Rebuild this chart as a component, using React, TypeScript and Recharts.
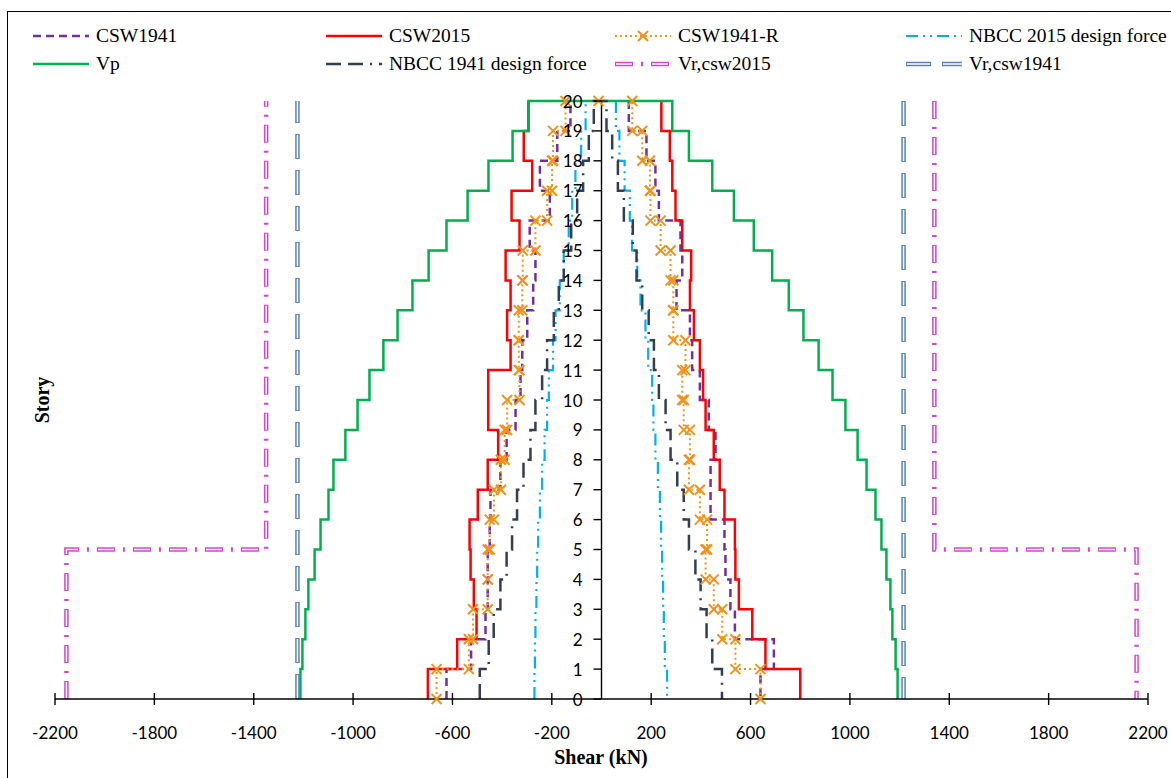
import { Line, LineChart, ReferenceDot, ReferenceLine, XAxis, YAxis } from 'recharts'

// story numbers (value of each segment holds from story-1 up to story)
const stories = [1, 2, 3, 4, 5, 6, 7, 8, 9, 10, 11, 12, 13, 14, 15, 16, 17, 18, 19, 20]
const storyTicks = [0, 1, 2, 3, 4, 5, 6, 7, 8, 9, 10, 11, 12, 13, 14, 15, 16, 17, 18, 19, 20]
const shearTicks = [-2200, -1800, -1400, -1000, -600, -200, 200, 600, 1000, 1400, 1800, 2200]

// shear per story, bottom (story 1) to top (story 20)
const csw1941Left = [-624, -525, -467, -458, -458, -450, -447, -407, -382, -346, -326, -319, -299, -275, -266, -289, -208, -248, -178, -125]
const csw1941Right = [640, 694, 537, 519, 499, 495, 439, 439, 459, 432, 396, 365, 356, 302, 325, 318, 231, 217, 181, 110]

const csw2015Left = [-699, -581, -503, -514, -527, -531, -498, -458, -416, -456, -456, -366, -380, -366, -386, -330, -362, -279, -313, -294]
const csw2015Right = [800, 660, 607, 553, 539, 537, 495, 476, 452, 419, 409, 396, 372, 356, 361, 325, 298, 285, 275, 241]

const csw1941RLeft = [-664, -534, -517, -458, -458, -450, -433, -405, -390, -380, -330, -333, -333, -319, -317, -266, -219, -199, -195, -145]
const csw1941RTop = -12
const csw1941RRight = [640, 539, 486, 452, 419, 425, 396, 352, 356, 331, 325, 338, 289, 289, 278, 238, 197, 195, 164, 124]

const nbcc2015Left = [-270, -268, -266, -262, -259, -255, -248, -239, -229, -219, -212, -195, -185, -168, -152, -132, -118, -105, -82, -64]
const nbcc2015Right = [264, 255, 251, 248, 244, 240, 235, 227, 217, 209, 204, 188, 177, 157, 144, 123, 114, 93, 72, 58]

const vpLeft = [-1212, -1204, -1192, -1180, -1155, -1131, -1099, -1079, -1031, -982, -934, -878, -821, -761, -696, -624, -539, -455, -358, -294]
const vpRight = [1192, 1184, 1171, 1163, 1147, 1127, 1103, 1067, 1031, 982, 930, 874, 813, 754, 687, 613, 533, 446, 352, 285]

const nbcc1941Left = [-490, -454, -434, -407, -382, -360, -340, -314, -286, -266, -239, -219, -192, -172, -152, -122, -98, -74, -51, -31]
const nbcc1941Right = [485, 446, 423, 399, 378, 352, 331, 305, 278, 258, 231, 211, 190, 164, 141, 126, 90, 66, 43, 20]

const vrCsw2015Left = [-2154, -2154, -2154, -2154, -2154, -1350, -1350, -1350, -1350, -1350, -1350, -1350, -1350, -1350, -1350, -1350, -1350, -1350, -1350, -1350]
const vrCsw2015Right = [2154, 2154, 2154, 2154, 2154, 1340, 1340, 1340, 1340, 1340, 1340, 1340, 1340, 1340, 1340, 1340, 1340, 1340, 1340, 1340]

const vrCsw1941Left = [-1224, -1224, -1224, -1224, -1224, -1224, -1224, -1224, -1224, -1224, -1224, -1224, -1224, -1224, -1224, -1224, -1224, -1224, -1224, -1224]
const vrCsw1941Right = [1216, 1216, 1216, 1216, 1216, 1216, 1216, 1216, 1216, 1216, 1216, 1216, 1216, 1216, 1216, 1216, 1216, 1216, 1216, 1216]

type Pt = { x: number; y: number }

interface Series {
  name: string
  left: number[]
  right: number[]
  apex?: number
  color: string
  width: number
  dash?: string
  marker?: boolean
  double?: { inner: string; offset: number }
  joined?: boolean
}

const series: Series[] = [
  { name: 'CSW1941', left: csw1941Left, right: csw1941Right, color: '#7030A0', width: 2.5, dash: '8 5' },
  { name: 'CSW2015', left: csw2015Left, right: csw2015Right, color: '#FF0000', width: 2.5 },
  { name: 'CSW1941-R', left: csw1941RLeft, right: csw1941RRight, apex: csw1941RTop, color: '#F39219', width: 2, dash: '2 3', marker: true },
  { name: 'NBCC 2015 design force', left: nbcc2015Left, right: nbcc2015Right, color: '#00B0F0', width: 2.2, dash: '12 5 2 5 2 5' },
  { name: 'Vp', left: vpLeft, right: vpRight, color: '#00B050', width: 2.5, joined: true },
  { name: 'NBCC 1941 design force', left: nbcc1941Left, right: nbcc1941Right, color: '#333F50', width: 2.5, dash: '15 7 15 7 2 7', joined: true },
  { name: 'Vr,csw2015', left: vrCsw2015Left, right: vrCsw2015Right, color: '#D444D4', width: 4.5, dash: '18 8 2 8', double: { inner: '16 20', offset: -1 } },
  { name: 'Vr,csw1941', left: vrCsw1941Left, right: vrCsw1941Right, color: '#5A82B5', width: 4.5, dash: '25 11', double: { inner: '23 13', offset: -1 } },
]

function leftBranch(vals: number[]): Pt[] {
  const pts: Pt[] = []
  vals.forEach((v, i) => {
    pts.push({ x: v, y: stories[i] - 1 }, { x: v, y: stories[i] })
  })
  return pts
}

function rightBranch(vals: number[]): Pt[] {
  const pts: Pt[] = []
  for (let i = vals.length - 1; i >= 0; i--) {
    pts.push({ x: vals[i], y: stories[i] }, { x: vals[i], y: stories[i] - 1 })
  }
  return pts
}

function Cross({ cx, cy, color }: { cx: number; cy: number; color: string }) {
  const r = 5
  return (
    <path
      d={`M${cx - r},${cy - r}L${cx + r},${cy + r}M${cx - r},${cy + r}L${cx + r},${cy - r}`}
      stroke={color}
      strokeWidth={2}
      fill="none"
    />
  )
}

function ShearTick(props: any) {
  const { x, y, payload } = props
  return (
    <g>
      <line x1={x} x2={x} y1={y - 6} y2={y + 6} stroke="#000" strokeWidth={1.4} />
      <text x={x} y={y + 33} textAnchor="middle" dominantBaseline="central" fontSize={17} fill="#000">
        {payload.value}
      </text>
    </g>
  )
}

function StoryLabel(props: any) {
  const { cx, cy, story } = props
  return (
    <g>
      <line x1={cx - 8} x2={cx} y1={cy} y2={cy} stroke="#000" strokeWidth={1.4} />
      <text x={cx - 19} y={cy} textAnchor="end" dominantBaseline="central" fontSize={17} fill="#000">
        {story}
      </text>
    </g>
  )
}

function Sample({ s }: { s: Series }) {
  return (
    <svg width={58} height={12} style={{ position: 'absolute', left: 0, top: -6 }}>
      <line x1={1} x2={57} y1={6} y2={6} stroke={s.color} strokeWidth={s.width} strokeDasharray={s.dash} />
      {s.double && (
        <line x1={1} x2={57} y1={6} y2={6} stroke="#fff" strokeWidth={1.5} strokeDasharray={s.double.inner} strokeDashoffset={s.double.offset} />
      )}
      {s.marker && <Cross cx={29} cy={6} color={s.color} />}
    </svg>
  )
}

const legendCols = [32, 325, 614, 905]
const legendRows = [36, 64]

export default function App() {
  const lines: { key: string; data: Pt[]; stroke: string; width: number; dash?: string; offset?: number; marker?: boolean }[] = []
  series.forEach((s) => {
    const top: Pt[] = s.apex !== undefined ? [{ x: s.apex, y: 20 }] : []
    const branches = s.joined
      ? [[...leftBranch(s.left), ...rightBranch(s.right)]]
      : [leftBranch(s.left), [...top, ...rightBranch(s.right)]]
    branches.forEach((data, b) => {
      lines.push({ key: `${s.name}-${b}`, data, stroke: s.color, width: s.width, dash: s.dash, marker: s.marker })
      if (s.double) {
        lines.push({ key: `${s.name}-${b}-in`, data, stroke: '#fff', width: 1.5, dash: s.double.inner, offset: s.double.offset })
      }
    })
  })

  return (
    <div
      style={{
        position: 'fixed',
        left: 0,
        top: 0,
        width: 1171,
        height: 778,
        overflow: 'hidden',
        background: '#fff',
        fontFamily: 'Lato, sans-serif',
      }}
    >
      <div style={{ position: 'absolute', left: 7, top: 11, width: 1300, height: 900, border: '1.5px solid #000' }} />

      {series.map((s, i) => {
        const col = i % 4
        const row = Math.floor(i / 4)
        return (
          <div key={s.name} style={{ position: 'absolute', left: legendCols[col], top: legendRows[row], height: 0 }}>
            <Sample s={s} />
            <span
              style={{
                position: 'absolute',
                left: 64,
                top: -12,
                whiteSpace: 'nowrap',
                fontFamily: '"Liberation Serif", serif',
                fontSize: 19.5,
                lineHeight: '24px',
                color: '#000',
              }}
            >
              {s.name}
            </span>
          </div>
        )
      })}

      <div style={{ position: 'absolute', left: 0, top: 0 }}>
        <LineChart width={1200} height={778} margin={{ top: 101, right: 52, bottom: 49, left: 55 }}>
          <XAxis
            type="number"
            dataKey="x"
            domain={[-2200, 2200]}
            ticks={shearTicks}
            interval={0}
            height={30}
            tickSize={0}
            tickMargin={0}
            tickLine={false}
            tick={<ShearTick />}
            axisLine={{ stroke: '#000', strokeWidth: 1.4 }}
          />
          <YAxis type="number" domain={[0, 20]} ticks={storyTicks} hide width={0} />
          <ReferenceLine x={0} stroke="#000" strokeWidth={1.4} />
          {lines.map((l) => (
            <Line
              key={l.key}
              data={l.data}
              dataKey="y"
              type="linear"
              stroke={l.stroke}
              strokeWidth={l.width}
              strokeDasharray={l.dash}
              strokeDashoffset={l.offset}
              dot={l.marker ? (p: any) => <Cross key={`${l.key}-${p.index}`} cx={p.cx} cy={p.cy} color={l.stroke} /> : false}
              activeDot={false}
              isAnimationActive={false}
            />
          ))}
          {storyTicks.map((k) => (
            <ReferenceDot key={k} x={0} y={k} r={0} shape={(p: any) => <StoryLabel {...p} story={k} />} />
          ))}
        </LineChart>
      </div>

      <div
        style={{
          position: 'absolute',
          left: 601,
          top: 757,
          transform: 'translate(-50%, -50%)',
          fontFamily: '"Liberation Serif", serif',
          fontWeight: 'bold',
          fontSize: 20,
          whiteSpace: 'nowrap',
        }}
      >
        Shear (kN)
      </div>
      <div
        style={{
          position: 'absolute',
          left: 42,
          top: 400,
          transform: 'translate(-50%, -50%) rotate(-90deg)',
          fontFamily: '"Liberation Serif", serif',
          fontWeight: 'bold',
          fontSize: 20,
          whiteSpace: 'nowrap',
        }}
      >
        Story
      </div>
    </div>
  )
}
